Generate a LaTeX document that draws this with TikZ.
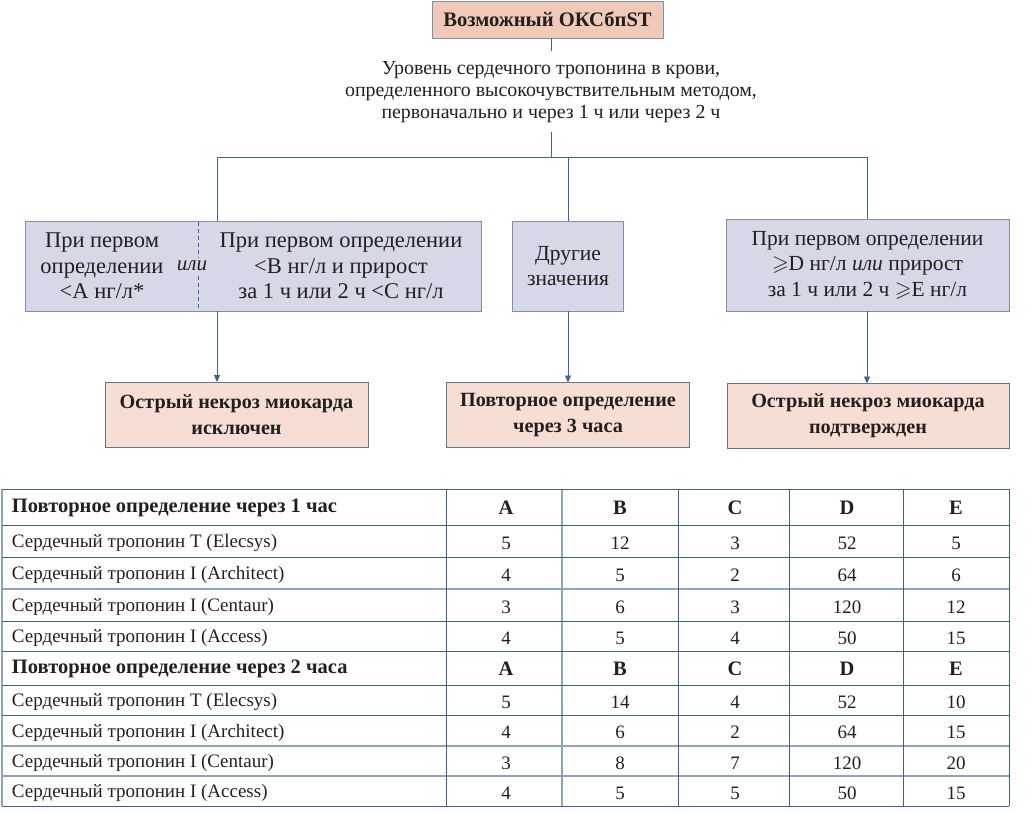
\documentclass[tikz,border=0pt]{standalone}
\usepackage{amssymb}
\usepackage{fontspec}
\setmainfont{Liberation Serif}
\usetikzlibrary{arrows.meta}
\definecolor{txt}{HTML}{231F20}
\definecolor{peach}{HTML}{F1C9B8}
\definecolor{peachl}{HTML}{F6DED5}
\definecolor{lav}{HTML}{D6D8E8}
\definecolor{bord}{HTML}{7E90AE}
\definecolor{conn}{HTML}{3A66A0}
\definecolor{grid}{HTML}{3A6294}
\definecolor{gridl}{HTML}{8FA3BF}
\tikzset{
  every node/.style={text=txt, inner sep=0pt, outer sep=0pt},
  topbox/.style={draw=bord, line width=0.9pt, fill=peach, minimum width=231pt, minimum height=37pt, font=\fontsize{20.6}{22}\selectfont\bfseries},
  bluebox/.style={draw=bord, line width=0.9pt, fill=lav, minimum height=90pt, align=center, font=\fontsize{21.5}{25.5}\selectfont},
  resbox/.style={draw=bord!80!black, line width=0.9pt, fill=peachl, minimum height=65pt, align=center, font=\fontsize{20.2}{26}\selectfont\bfseries},
  conline/.style={draw=conn, line width=0.9pt},
  arr/.style={conline, -{Triangle[length=7pt,width=6pt]}},
  gridline/.style={draw=grid, line width=0.8pt},
  gridlight/.style={draw=gridl, line width=1.3pt},
  tb/.style={font=\fontsize{19}{21}\selectfont, yshift=-2pt},
  th/.style={font=\fontsize{20.5}{22}\selectfont\bfseries, yshift=-1pt},
}
\begin{document}
\begin{tikzpicture}[x=1pt,y=-1pt]
\useasboundingbox (0,0) rectangle (1033,812);
% flowchart
\node[topbox] (top) at (547.5,19.5) {Возможный ОКСбпST};
\node[align=center, font=\fontsize{19.9}{22}\selectfont] (lvl) at (551,92) {Уровень сердечного тропонина в крови,\\определенного высокочувствительным методом,\\первоначально и через 1 ч или через 2 ч};
\coordinate (t1) at (551,51);
\coordinate (t2) at (551,132);
\coordinate (hL) at (217,157);
\coordinate (hM) at (568,157);
\coordinate (hR) at (867,157);
\coordinate (hC) at (551,157);
\draw[conline] (top.south -| t1) -- (t1);
\draw[conline] (t2) -- (hC);
\draw[conline] (hL) -- (hR);

\node[bluebox, minimum width=456pt] (bl) at (253,266) {};
\node[bluebox, minimum width=111pt] (bm) at (568,266) {Другие\\значения};
\node[bluebox, minimum width=283pt, minimum height=92pt] (br) at (867.5,265) {При первом определении\\$\geqslant$D нг/л \textit{или} прирост\\за 1 ч или 2 ч $\geqslant$E нг/л};
\node[align=center, font=\fontsize{22.5}{25.5}\selectfont] (blt1) at (102,266) {При первом\\определении\\<A нг/л*};
\node[font=\fontsize{21}{22}\selectfont\itshape] (ili) at (192,266) {или};
\node[align=center, font=\fontsize{22.5}{25.5}\selectfont] (blt2) at (341,266) {При первом определении\\<B нг/л и прирост\\за 1 ч или 2 ч <C нг/л};
\coordinate (d1) at (198,222);
\coordinate (d2) at (198,258);
\coordinate (d3) at (198,276);
\coordinate (d4) at (198,310);
\draw[conline, dash pattern=on 4pt off 3pt] (d1) -- (d2);
\draw[conline, dash pattern=on 4pt off 3pt] (d3) -- (d4);

\draw[conline] (hL) -- (hL |- bl.north);
\draw[conline] (hM) -- (bm.north);
\draw[conline] (hR) -- (hR |- br.north);

\node[resbox, minimum width=263pt] (rl) at (236.5,414.5) {Острый некроз миокарда\\исключен};
\node[resbox, minimum width=243pt] (rm) at (568,415) {Повторное определение\\через 3 часа};
\node[resbox, minimum width=282pt] (rr) at (868,416) {Острый некроз миокарда\\подтвержден};

\draw[arr] (hL |- bl.south) -- (hL |- rl.north);
\draw[arr] (bm.south) -- (rm.north);
\draw[arr] (hR |- br.south) -- (hR |- rr.north);

% table
\foreach \yy in {589,746,776}{
  \draw[gridlight] (2,\yy) -- (1009,\yy);
}
\foreach \xx in {2,562}{
  \draw[gridlight] (\xx,489) -- (\xx,806);
}
\foreach \yy in {489,525,557,621,651,685,715,806}{
  \draw[gridline] (2,\yy) -- (1009,\yy);
}
\foreach \xx in {446,678,789,903,1009}{
  \draw[gridline] (\xx,489) -- (\xx,806);
}
\node[th, anchor=west] (h1) at (12,507) {Повторное определение через 1 час};
\node[th, anchor=west] (h2) at (12,668) {Повторное определение через 2 часа};
\foreach \cx/\l in {506/A,620/B,735/C,847/D,956/E}{
  \node[th] at (\cx,507) {\l};
  \node[th] at (\cx,668) {\l};
}
\foreach \ry/\nm/\a/\b/\c/\d/\e in {
  541/{Сердечный тропонин T (Elecsys)}/5/12/3/52/5,
  573/{Сердечный тропонин I (Architect)}/4/5/2/64/6,
  605/{Сердечный тропонин I (Centaur)}/3/6/3/120/12,
  636/{Сердечный тропонин I (Access)}/4/5/4/50/15,
  700/{Сердечный тропонин T (Elecsys)}/5/14/4/52/10,
  730.5/{Сердечный тропонин I (Architect)}/4/6/2/64/15,
  761/{Сердечный тропонин I (Centaur)}/3/8/7/120/20,
  791/{Сердечный тропонин I (Access)}/4/5/5/50/15}{
  \node[tb, anchor=west] at (12,\ry) {\nm};
  \node[tb] at (506,\ry) {\a};
  \node[tb] at (620,\ry) {\b};
  \node[tb] at (735,\ry) {\c};
  \node[tb] at (847,\ry) {\d};
  \node[tb] at (956,\ry) {\e};
}
\end{tikzpicture}
\end{document}
